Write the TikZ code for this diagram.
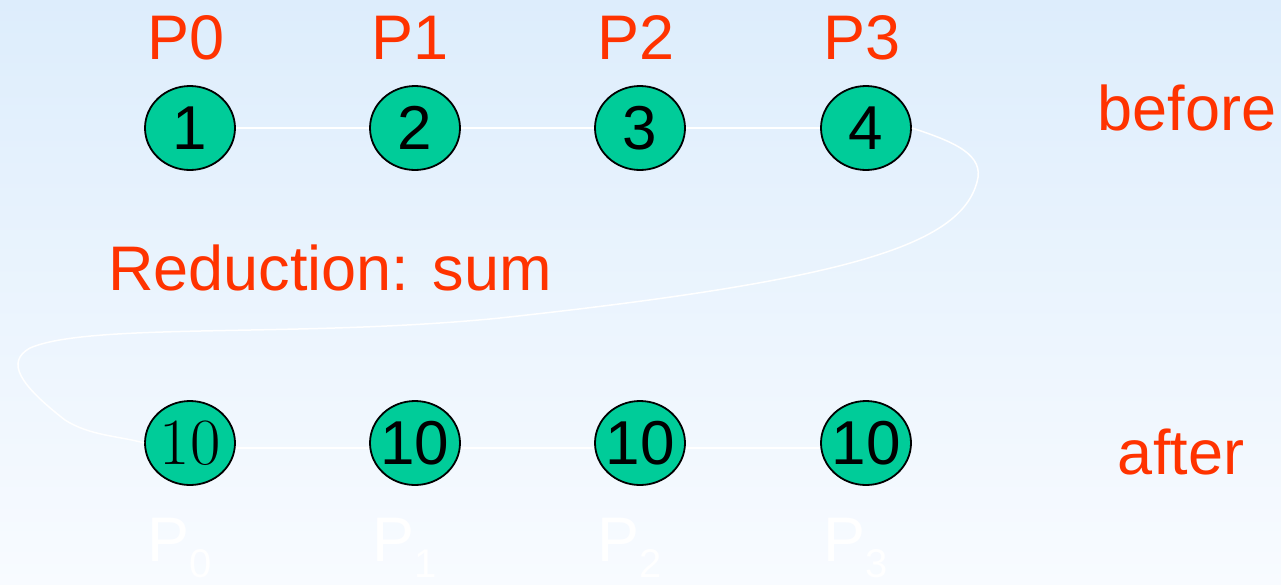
\documentclass[tikz,border=0pt]{standalone}
\usepackage{fontspec}
\setsansfont{Liberation Sans}
\usetikzlibrary{shapes.geometric}
\definecolor{lbl}{HTML}{FF3300}
\definecolor{proc}{HTML}{00CC99}
\definecolor{bgtop}{HTML}{DDEDFC}
\definecolor{bgbot}{HTML}{F8FBFF}
\tikzset{
  procnode/.style={ellipse, draw=black, line width=1.8pt, fill=proc, minimum width=90pt, minimum height=84pt, inner sep=0pt, font=\sffamily\fontsize{62}{64}\selectfont},
  serifnode/.style={procnode, font=\rmfamily\fontsize{66}{68}\selectfont},
  redlbl/.style={text=lbl, font=\sffamily\fontsize{63}{66}\selectfont, inner sep=0pt},
  faint/.style={text=white, font=\sffamily\fontsize{63}{66}\selectfont, inner sep=0pt},
  link/.style={draw=white, line width=1.5pt}
}
\begin{document}
\begin{tikzpicture}[x=1pt,y=-1pt]
\shade[top color=bgtop, bottom color=bgbot] (0,0) rectangle (1281,584);
\useasboundingbox (0,0) rectangle (1281,584);
% top row
\node[procnode] (a1) at (190,128) {1};
\node[procnode] (a2) at (415,128) {2};
\node[procnode] (a3) at (640,128) {3};
\node[procnode] (a4) at (866,128) {4};
\node[redlbl] (p0) at (186,38) {P0};
\node[redlbl] (p1) at (410,38) {P1};
\node[redlbl] (p2) at (636,38) {P2};
\node[redlbl] (p3) at (862,38) {P3};
\node[redlbl] (before) at (1187,108) {before};
\node[redlbl] (red) at (330,268) {Reduction: sum};
\node[redlbl] (after) at (1181,452) {after};
% bottom row
\node[serifnode] (b1) at (190,443) {\makebox[0pt]{10}};
\node[procnode] (b2) at (415,443) {\makebox[0pt]{10}};
\node[procnode] (b3) at (640,443) {\makebox[0pt]{10}};
\node[procnode] (b4) at (866,443) {\makebox[0pt]{10}};
\node[faint] (q0) at (180,548) {P\raisebox{-16pt}{\fontsize{40}{42}\selectfont 0}};
\node[faint] (q1) at (405,548) {P\raisebox{-16pt}{\fontsize{40}{42}\selectfont 1}};
\node[faint] (q2) at (630,548) {P\raisebox{-16pt}{\fontsize{40}{42}\selectfont 2}};
\node[faint] (q3) at (856,548) {P\raisebox{-16pt}{\fontsize{40}{42}\selectfont 3}};
% connectors
\draw[link] (a1.east) -- (a2.west);
\draw[link] (a2.east) -- (a3.west);
\draw[link] (a3.east) -- (a4.west);
\draw[link] ([yshift=-5pt]b1.east) -- ([yshift=-5pt]b2.west);
\draw[link] ([yshift=-5pt]b2.east) -- ([yshift=-5pt]b3.west);
\draw[link] ([yshift=-5pt]b3.east) -- ([yshift=-5pt]b4.west);
\draw[link] (a4.east) .. controls (955,142) and (985,155) .. (977,182)
  .. controls (960,245) and (850,280) .. (500,318)
  .. controls (300,338) and (90,322) .. (30,348)
  .. controls (5,362) and (20,385) .. (65,420)
  .. controls (90,436) and (120,436) .. (b1.west);
\end{tikzpicture}
\end{document}
